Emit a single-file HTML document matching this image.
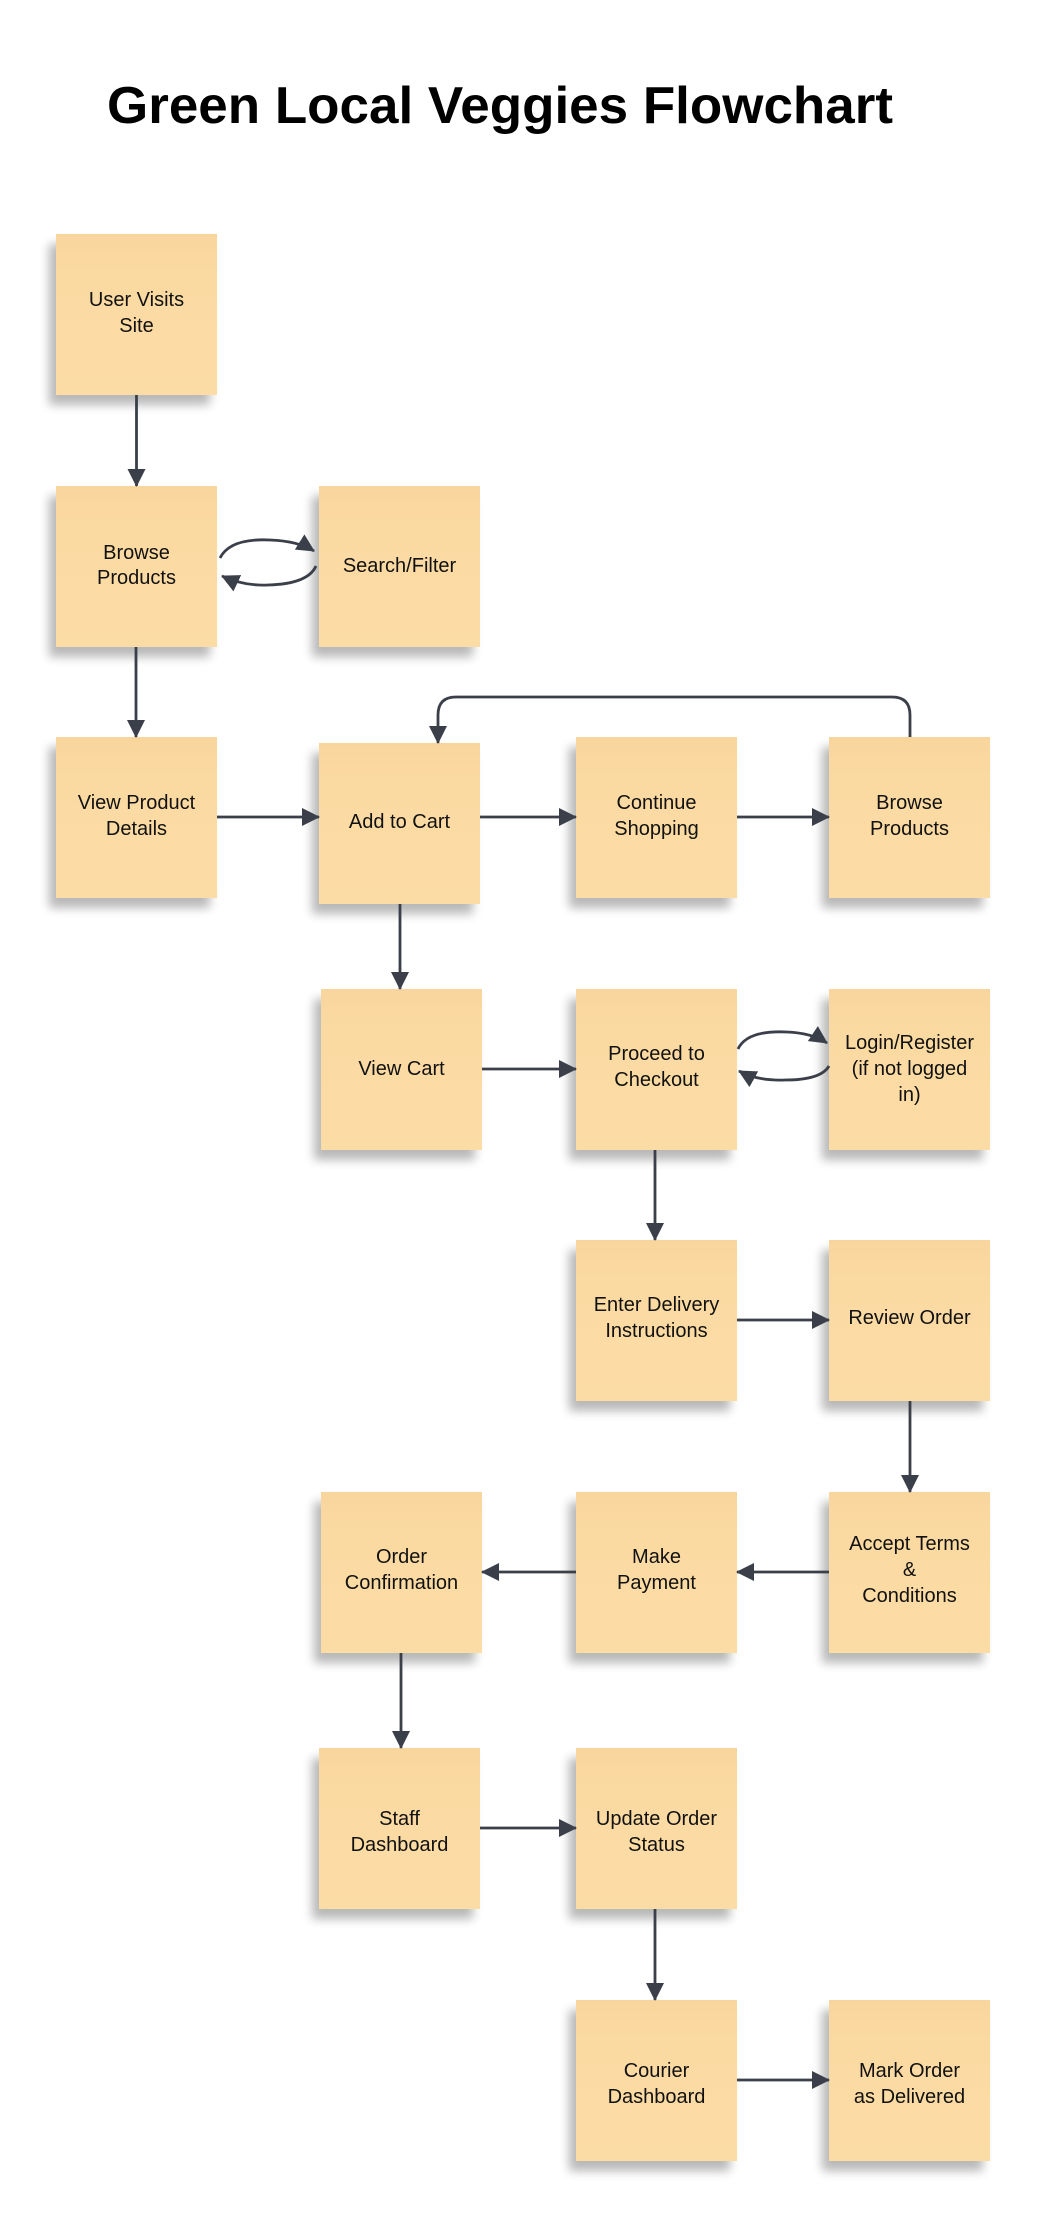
<!DOCTYPE html>
<html><head><meta charset="utf-8"><style>
html,body{margin:0;padding:0;background:#fff;}
svg{display:block;}
text{font-family:"Liberation Sans",sans-serif;}
</style></head><body>
<svg width="1046" height="2220" viewBox="0 0 1046 2220" xmlns="http://www.w3.org/2000/svg">
<defs>
<linearGradient id="g" x1="0" y1="0" x2="0" y2="1"><stop offset="0" stop-color="#f8d59d"/><stop offset="0.25" stop-color="#fbdaa2"/><stop offset="1" stop-color="#fcdca5"/></linearGradient>
<filter id="sh" x="-20%" y="-20%" width="140%" height="150%"><feGaussianBlur in="SourceAlpha" stdDeviation="5"/><feOffset dx="-7" dy="10"/><feComponentTransfer><feFuncA type="linear" slope="0.28"/></feComponentTransfer><feMerge><feMergeNode/><feMergeNode in="SourceGraphic"/></feMerge></filter>
<marker id="b" markerWidth="18" markerHeight="18" refX="17" refY="9" orient="auto" markerUnits="userSpaceOnUse" viewBox="0 0 18 18"><path d="M0,0 L18,9 L0,18 z" fill="#3a3f4a"/></marker>
</defs>
<text x="107" y="123" font-size="52" font-weight="bold" fill="#000" textLength="786" lengthAdjust="spacingAndGlyphs">Green Local Veggies Flowchart</text>

<g filter="url(#sh)" fill="url(#g)">
<rect x="56" y="234" width="161" height="161"/>
<rect x="56" y="486" width="161" height="161"/>
<rect x="319" y="486" width="161" height="161"/>
<rect x="56" y="737" width="161" height="161"/>
<rect x="319" y="743" width="161" height="161"/>
<rect x="576" y="737" width="161" height="161"/>
<rect x="829" y="737" width="161" height="161"/>
<rect x="321" y="989" width="161" height="161"/>
<rect x="576" y="989" width="161" height="161"/>
<rect x="829" y="989" width="161" height="161"/>
<rect x="576" y="1240" width="161" height="161"/>
<rect x="829" y="1240" width="161" height="161"/>
<rect x="321" y="1492" width="161" height="161"/>
<rect x="576" y="1492" width="161" height="161"/>
<rect x="829" y="1492" width="161" height="161"/>
<rect x="319" y="1748" width="161" height="161"/>
<rect x="576" y="1748" width="161" height="161"/>
<rect x="576" y="2000" width="161" height="161"/>
<rect x="829" y="2000" width="161" height="161"/>
</g>

<g fill="none" stroke="#3a3f4a" stroke-width="2.8" marker-end="url(#b)">
<path d="M136.5 395 V486"/>
<path d="M136 647 V737"/>
<path d="M217 817 H319"/>
<path d="M480 817 H576"/>
<path d="M737 817 H829"/>
<path d="M910 737 V715 Q910 697 892 697 H456 Q438 697 438 715 V743"/>
<path d="M400 904 V989"/>
<path d="M482 1069 H576"/>
<path d="M655 1150 V1240"/>
<path d="M737 1320 H829"/>
<path d="M910 1401 V1492"/>
<path d="M829 1572 H737"/>
<path d="M576 1572 H482"/>
<path d="M401 1653 V1748"/>
<path d="M480 1828 H576"/>
<path d="M655 1909 V2000"/>
<path d="M737 2080 H829"/>
<path d="M220 558 Q230 538 270 540 Q298 541 314 551"/>
<path d="M316 566 Q308 584 268 585 Q243 586 222 576"/>
<path d="M738 1049 Q747 1030 787 1032 Q812 1033 827 1043"/>
<path d="M829 1066 Q821 1080 785 1080 Q757 1081 739 1071"/>
</g>

<g font-size="20" fill="#111" text-anchor="middle">
<text x="136.5" y="306">User Visits</text><text x="136.5" y="332">Site</text>
<text x="136.5" y="559">Browse</text><text x="136.5" y="584">Products</text>
<text x="399.5" y="572">Search/Filter</text>
<text x="136.5" y="809">View Product</text><text x="136.5" y="835">Details</text>
<text x="399.5" y="828">Add to Cart</text>
<text x="656.5" y="809">Continue</text><text x="656.5" y="835">Shopping</text>
<text x="909.5" y="809">Browse</text><text x="909.5" y="835">Products</text>
<text x="401.5" y="1075">View Cart</text>
<text x="656.5" y="1060">Proceed to</text><text x="656.5" y="1086">Checkout</text>
<text x="909.5" y="1049">Login/Register</text><text x="909.5" y="1075">(if not logged</text><text x="909.5" y="1101">in)</text>
<text x="656.5" y="1311">Enter Delivery</text><text x="656.5" y="1337">Instructions</text>
<text x="909.5" y="1324">Review Order</text>
<text x="401.5" y="1563">Order</text><text x="401.5" y="1589">Confirmation</text>
<text x="656.5" y="1563">Make</text><text x="656.5" y="1589">Payment</text>
<text x="909.5" y="1550">Accept Terms</text><text x="909.5" y="1576">&amp;</text><text x="909.5" y="1602">Conditions</text>
<text x="399.5" y="1825">Staff</text><text x="399.5" y="1851">Dashboard</text>
<text x="656.5" y="1825">Update Order</text><text x="656.5" y="1851">Status</text>
<text x="656.5" y="2077">Courier</text><text x="656.5" y="2103">Dashboard</text>
<text x="909.5" y="2077">Mark Order</text><text x="909.5" y="2103">as Delivered</text>
</g>
</svg>
</body></html>
